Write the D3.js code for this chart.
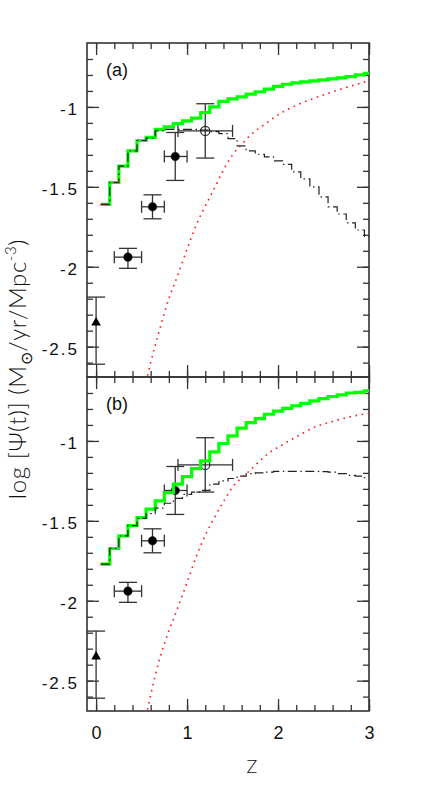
<!DOCTYPE html>
<html>
<head>
<meta charset="utf-8">
<script src="https://cdn.jsdelivr.net/npm/d3@7"></script>
<style>
body { margin:0; background:#fff; }
svg { display:block; }
text { font-family: "Liberation Sans", Arial, sans-serif; fill:#111; }
</style>
</head>
<body>
<svg id="drawing_region"></svg>
<script>

// bin centres of the step curves (redshift)
const zBins = [0.1,0.2,0.3,0.4,0.5,0.6,0.7,0.8,0.9,1.0,1.1,1.2,1.3,1.4,1.5,
               1.6,1.7,1.8,1.9,2.0,2.1,2.2,2.3,2.4,2.5,2.6,2.7,2.8,2.9,3.0];

// panel (a)
const greenA = [-1.61,-1.473,-1.37,-1.275,-1.21,-1.19,-1.14,-1.125,-1.104,-1.087,-1.07,-1.035,-1.0,-0.965,-0.95,
                -0.937,-0.92,-0.905,-0.888,-0.872,-0.858,-0.85,-0.843,-0.837,-0.831,-0.825,-0.818,-0.81,-0.80,-0.79];
const dashA  = [-1.61,-1.473,-1.37,-1.275,-1.21,-1.195,-1.15,-1.14,-1.14,-1.14,-1.14,-1.145,-1.155,-1.167,-1.198,
                -1.244,-1.275,-1.296,-1.3125,-1.3375,-1.36,-1.406,-1.45,-1.50,-1.5625,-1.625,-1.67,-1.725,-1.77,-1.81];

// panel (b)
const greenB = [-1.771,-1.673,-1.594,-1.53,-1.48,-1.427,-1.375,-1.323,-1.27,-1.223,-1.173,-1.125,-1.069,-1.016,-0.969,
                -0.92,-0.885,-0.86,-0.833,-0.813,-0.796,-0.78,-0.765,-0.75,-0.735,-0.722,-0.712,-0.70,-0.696,-0.686];
const dashB  = [-1.771,-1.673,-1.594,-1.53,-1.485,-1.455,-1.42,-1.39,-1.36,-1.335,-1.32,-1.31,-1.27,-1.25,-1.235,
                -1.22,-1.205,-1.2,-1.195,-1.19,-1.19,-1.19,-1.19,-1.19,-1.192,-1.195,-1.205,-1.215,-1.22,-1.23];

// red dotted curves
const redZ = [0.55,0.6,0.7,0.8,0.9,1.0,1.1,1.2,1.3,1.4,1.5,1.6,1.7,1.8,1.9,2.0,2.2,2.4,2.6,2.8,3.0];
const redA = [-2.72,-2.60,-2.39,-2.20,-2.05,-1.89,-1.74,-1.62,-1.51,-1.395,-1.30,-1.235,-1.175,-1.13,-1.09,-1.05,-0.99,-0.945,-0.905,-0.87,-0.835];
const redB = [-2.72,-2.59,-2.36,-2.19,-2.04,-1.885,-1.725,-1.59,-1.48,-1.38,-1.29,-1.23,-1.18,-1.125,-1.075,-1.04,-0.975,-0.915,-0.878,-0.848,-0.827];

// observed points with error bars
const obsZ    = [0.35, 0.62, 0.87, 1.2];
const obsY    = [-1.94, -1.625, -1.31, -1.15];
const obsZlo  = [0.2, 0.5, 0.75, 0.9];
const obsZhi  = [0.5, 0.75, 1.0, 1.5];
const obsYlo  = [-2.01, -1.70, -1.46, -1.32];
const obsYhi  = [-1.885, -1.55, -1.16, -0.98];
const obsOpen = [false, false, false, true];

// local point (triangle)
const triZ = 0, triY = -2.35, triYlo = -2.61, triYhi = -2.19;

const xTicks = [0, 1, 2, 3];
const xTickLabels = ['0', '1', '2', '3'];
const yTicks = [-1, -1.5, -2, -2.5];
const yTickLabels = ['-1', '-1.5', '-2', '-2.5'];
const panelLabels = ['(a)', '(b)'];


var config = {
    width: 438,
    height: 797,
    left: 87,
    right: 369,
    tops: [43, 377],
    panel_height: 334
};

const svg = d3.select('#drawing_region')
    .attr('width', config.width)
    .attr('height', config.height);

const xscale = d3.scaleLinear()
    .domain([-0.1, 3])
    .range([config.left, config.right]);

const xMinor = d3.range(0, 3.01, 0.2).map(d => +d.toFixed(1));
const yMinor = d3.range(-2.6, -0.65, 0.1).map(d => +d.toFixed(1));

const panels = [
    { green: greenA, dash: dashA, red: redA },
    { green: greenB, dash: dashB, red: redB }
];

panels.forEach((p, i) => {
    const top = config.tops[i];
    const bottom = top + config.panel_height;

    const yscale = d3.scaleLinear()
        .domain([-2.69, -0.6])
        .range([bottom, top]);

    const g = svg.append('g');

    svg.append('defs').append('clipPath')
        .attr('id', 'clip' + i)
        .append('rect')
        .attr('x', config.left).attr('y', top)
        .attr('width', config.right - config.left)
        .attr('height', config.panel_height);

    // ticks on all four sides, pointing inwards
    const addAxis = (axis, tr) => {
        const a = g.append('g').attr('transform', tr).call(axis);
        a.select('.domain').remove();
        a.selectAll('line').attr('stroke', '#333').attr('stroke-width', 1.3);
        return a;
    };

    addAxis(d3.axisBottom(xscale).tickValues(xMinor).tickSize(-6).tickFormat(''), `translate(0,${bottom})`);
    addAxis(d3.axisTop(xscale).tickValues(xMinor).tickSize(-6).tickFormat(''), `translate(0,${top})`);
    addAxis(d3.axisTop(xscale).tickValues(xTicks).tickSize(-12).tickFormat(''), `translate(0,${top})`);
    const xb = addAxis(d3.axisBottom(xscale).tickValues(xTicks).tickSize(-12).tickPadding(15)
        .tickFormat((d, k) => i === 1 ? xTickLabels[k] : ''), `translate(0,${bottom})`);
    xb.selectAll('text').attr('font-size', 18).attr('font-family', '"Liberation Sans", Arial, sans-serif').attr('fill', '#111');

    addAxis(d3.axisLeft(yscale).tickValues(yMinor).tickSize(-6).tickFormat(''), `translate(${config.left},0)`);
    addAxis(d3.axisRight(yscale).tickValues(yMinor).tickSize(-6).tickFormat(''), `translate(${config.right},0)`);
    addAxis(d3.axisRight(yscale).tickValues(yTicks).tickSize(-12).tickFormat(''), `translate(${config.right},0)`);
    const yl = addAxis(d3.axisLeft(yscale).tickValues(yTicks).tickSize(-12).tickPadding(8)
        .tickFormat((d, k) => yTickLabels[k]), `translate(${config.left},0)`);
    yl.selectAll('text').attr('font-size', 17).attr('dy', '0.45em').attr('letter-spacing', 2)
        .attr('font-family', '"Liberation Sans", Arial, sans-serif').attr('fill', '#111');

    // frame
    g.append('rect')
        .attr('x', config.left).attr('y', top)
        .attr('width', config.right - config.left)
        .attr('height', config.panel_height)
        .attr('fill', 'none')
        .attr('stroke', '#333')
        .attr('stroke-width', 1.6);

    g.append('text')
        .attr('x', config.left + 19)
        .attr('y', top + 33)
        .attr('font-size', 18)
        .text(panelLabels[i]);

    const plot = g.append('g').attr('clip-path', `url(#clip${i})`);

    // error bars
    const eb = plot.append('g').attr('stroke', '#333').attr('stroke-width', 1.3).attr('fill', 'none');
    obsZ.forEach((z, k) => {
        const cx = xscale(z), cy = yscale(obsY[k]);
        const x0 = xscale(obsZlo[k]), x1 = xscale(obsZhi[k]);
        const y0 = yscale(obsYlo[k]), y1 = yscale(obsYhi[k]);
        eb.append('line').attr('x1', x0).attr('x2', x1).attr('y1', cy).attr('y2', cy);
        eb.append('line').attr('x1', cx).attr('x2', cx).attr('y1', y0).attr('y2', y1);
        [x0, x1].forEach(x => eb.append('line').attr('x1', x).attr('x2', x).attr('y1', cy - 6).attr('y2', cy + 6));
        [y0, y1].forEach(y => eb.append('line').attr('x1', cx - 9).attr('x2', cx + 9).attr('y1', y).attr('y2', y));
    });
    const tx = xscale(triZ);
    eb.append('line').attr('x1', tx).attr('x2', tx).attr('y1', yscale(triYlo)).attr('y2', yscale(triYhi));
    [triYlo, triYhi].forEach(v => eb.append('line').attr('x1', tx - 9).attr('x2', tx + 9).attr('y1', yscale(v)).attr('y2', yscale(v)));

    plot.selectAll('circle.obs').data(obsZ).enter()
        .append('circle')
        .attr('class', 'obs')
        .attr('cx', d => xscale(d))
        .attr('cy', (d, k) => yscale(obsY[k]))
        .attr('r', (d, k) => obsOpen[k] ? 4.6 : 4.3)
        .attr('fill', (d, k) => obsOpen[k] ? 'none' : '#000')
        .attr('stroke', '#222')
        .attr('stroke-width', (d, k) => obsOpen[k] ? 1.2 : 0.5);

    plot.append('path')
        .attr('d', d3.symbol(d3.symbolTriangle).size(40)())
        .attr('transform', `translate(${tx},${yscale(triY)})`)
        .attr('fill', '#000');

    // step curves: each bin spans its centre +/- 0.05
    const stepLine = d3.line()
        .x(d => xscale(d[0]))
        .y(d => yscale(d[1]))
        .curve(d3.curveStepAfter);
    const stepPts = vals => {
        const pts = zBins.map((z, k) => [z - 0.05, vals[k]]);
        pts.push([zBins[zBins.length - 1], vals[vals.length - 1]]);
        return pts;
    };

    plot.append('path')
        .attr('d', stepLine(stepPts(p.green)))
        .attr('fill', 'none')
        .attr('stroke', '#00ff00')
        .attr('stroke-width', 3.2);

    plot.append('path')
        .attr('d', stepLine(stepPts(p.dash)))
        .attr('fill', 'none')
        .attr('stroke', '#222')
        .attr('stroke-width', 1.2)
        .attr('stroke-dasharray', '9,3.5,1.5,3.5');

    const redLine = d3.line()
        .x((d, k) => xscale(redZ[k]))
        .y(d => yscale(d))
        .curve(d3.curveMonotoneX);

    plot.append('path')
        .attr('d', redLine(p.red))
        .attr('fill', 'none')
        .attr('stroke', '#ff1a1a')
        .attr('stroke-width', 1.6)
        .attr('stroke-dasharray', '1.6,4.6');
});

// axis titles
svg.append('text')
    .attr('x', 252)
    .attr('y', 773)
    .attr('text-anchor', 'middle')
    .attr('font-size', 18)
    .style('font-family', 'Lato, "Liberation Sans", sans-serif')
    .style('font-weight', 300)
    .text('Z');

const ylab = svg.append('text')
    .attr('transform', 'translate(26,369) rotate(-90)')
    .attr('font-size', 24)
    .attr('letter-spacing', 0.6)
    .style('font-family', 'Lato, "Liberation Sans", sans-serif')
    .style('font-weight', 300);
ylab.append('tspan').text('log [\u03A8(t)]  (M');
ylab.append('tspan').attr('font-size', 16).attr('dy', 6).text('\u2299');
ylab.append('tspan').attr('dy', -6).text('/yr/Mpc');
ylab.append('tspan').attr('font-size', 15).attr('dy', -10).text('-3');
ylab.append('tspan').attr('dy', 10).text(')');

// centre the rotated title on the figure (it spans ~298 px in the reference)
const bb = ylab.node().getBBox();
ylab.attr('x', -(bb.x + bb.width / 2));

</script>
</body>
</html>
